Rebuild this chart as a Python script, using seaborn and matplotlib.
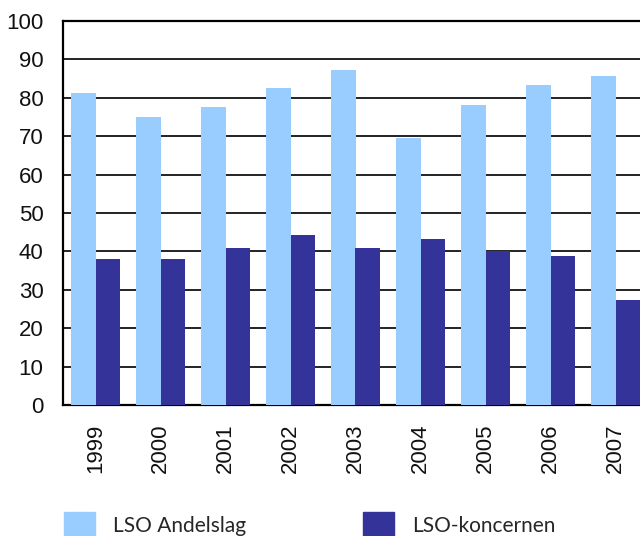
import matplotlib
matplotlib.use("Agg")
import matplotlib.pyplot as plt
import seaborn as sns
import pandas as pd

years = ["1999", "2000", "2001", "2002", "2003", "2004", "2005", "2006", "2007"]
andelslag = [81.2, 75.0, 77.6, 82.6, 87.2, 69.5, 78.1, 83.3, 85.7]
koncernen = [38.0, 38.0, 40.9, 44.3, 40.9, 43.2, 40.1, 38.8, 27.3]
series = ["LSO Andelslag", "LSO-koncernen"]
colors = ["#99CCFF", "#333399"]

df = pd.DataFrame({
    "year": years * 2,
    "value": andelslag + koncernen,
    "serie": [series[0]] * len(years) + [series[1]] * len(years),
})

sns.set_style("white")
plt.rcParams["font.family"] = ["Liberation Sans", "DejaVu Sans"]

fig = plt.figure(figsize=(6.4, 5.36), dpi=100)
ax = fig.add_axes([63 / 640, 1 - 405 / 536, 585 / 640, 384 / 536])

sns.barplot(data=df, x="year", y="value", hue="serie", palette=colors,
            width=0.74, saturation=1, ax=ax, legend=False, zorder=3,
            linewidth=0, edgecolor="none")

ax.set_ylim(0, 100)
ax.set_xlim(-0.5, 8.5)
ax.set_yticks(range(0, 101, 10))
ax.yaxis.grid(True, color="#222222", linewidth=1.4)
ax.set_axisbelow(True)
ax.set_xlabel("")
ax.set_ylabel("")

for side in ["left", "top", "bottom"]:
    ax.spines[side].set_color("black")
    ax.spines[side].set_linewidth(1.6)
ax.spines["right"].set_visible(False)

ax.tick_params(axis="y", length=0, pad=14, labelsize=16, colors="#111111")
ax.tick_params(axis="x", length=0, pad=13.5, labelsize=16, colors="#111111",
               labelrotation=90)

handles = [plt.Rectangle((0, 0), 1, 1, color=c) for c in colors]
fig.legend(handles, series, loc="upper left", bbox_to_anchor=(60 / 640, 1 - 508 / 536),
           ncol=2, frameon=False, handlelength=1.5, handleheight=1.5,
           handletextpad=0.85, columnspacing=5.6, borderaxespad=0, borderpad=0.2,
           prop={"family": "Lato", "size": 15})

fig.savefig("out.png", dpi=100)
